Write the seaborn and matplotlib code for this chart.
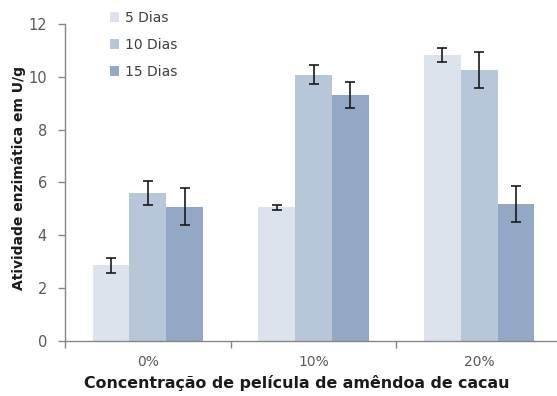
import numpy as np
import pandas as pd
import matplotlib
matplotlib.use("Agg")
import matplotlib.pyplot as plt
import seaborn as sns
from matplotlib.ticker import FixedLocator
from matplotlib.patches import Patch

concentracoes = ["0%", "10%", "20%"]
tempos = ["5 Dias", "10 Dias", "15 Dias"]
atividade_5 = [2.85, 5.05, 10.82]
atividade_10 = [5.60, 10.08, 10.27]
atividade_15 = [5.08, 9.32, 5.19]
erro_5 = [0.30, 0.10, 0.26]
erro_10 = [0.45, 0.36, 0.68]
erro_15 = [0.70, 0.50, 0.69]
cores = ["#DCE3EC", "#B7C6D9", "#92A8C4"]

valores = [atividade_5, atividade_10, atividade_15]
erros = [erro_5, erro_10, erro_15]
df = pd.DataFrame({
    "concentracao": [c for _ in tempos for c in concentracoes],
    "tempo": [t for t in tempos for _ in concentracoes],
    "atividade": [v for serie in valores for v in serie],
    "erro": [e for serie in erros for e in serie],
})

sns.set_theme(style="white")
plt.rcParams["font.family"] = ["DejaVu Sans"]

W, H = 557, 396
fig = plt.figure(figsize=(W / 100, H / 100), dpi=100)
ax = fig.add_axes([65 / W, 1 - 340.7 / H, (562 - 65) / W, (340.7 - 24) / H])

sns.barplot(data=df, x="concentracao", y="atividade", hue="tempo",
            order=concentracoes, hue_order=tempos, palette=cores, saturation=1,
            width=0.665, errorbar=None, linewidth=0, legend=False, ax=ax)

# error bars placed at the centre of each drawn bar
for i, t in enumerate(tempos):
    cont = ax.containers[i]
    xs = [p.get_x() + p.get_width() / 2 for p in cont.patches]
    ax.errorbar(xs, valores[i], yerr=erros[i], fmt="none", ecolor="#1a1a1a",
                elinewidth=1.2, capsize=3.4, capthick=1.2, zorder=5)

ax.set_ylim(0, 12)
ax.set_xlim(-0.5, 2.5)
ax.set_yticks(np.arange(0, 13, 2))
ax.xaxis.set_minor_locator(FixedLocator([-0.5, 0.5, 1.5]))
ax.tick_params(axis="x", which="major", length=0, pad=10, labelsize=10, labelcolor="#595959")
ax.tick_params(axis="x", which="minor", length=5, width=1, color="#868686", direction="out", bottom=True)
ax.tick_params(axis="y", length=5, width=1, color="#868686", direction="out", left=True,
               pad=8, labelsize=10.5, labelcolor="#595959")

for s in ["top", "right"]:
    ax.spines[s].set_visible(False)
for s in ["left", "bottom"]:
    ax.spines[s].set_color("#868686")
    ax.spines[s].set_linewidth(1)

ax.set_xlabel("Concentração de película de amêndoa de cacau", fontsize=11.4,
              fontweight="bold", color="#1a1a1a")
ax.xaxis.set_label_coords((297 - 65) / 497, -(375 - 340.7) / 316.7)
ax.set_ylabel("Atividade enzimática em U/g", fontsize=10, fontweight="bold",
              color="#1a1a1a")
ax.yaxis.set_label_coords(-(65 - 26) / 497, (340.7 - 178) / 316.7)

handles = [Patch(facecolor=c, edgecolor="none") for c in cores]
fig.legend(handles, tempos, loc="upper left", bbox_to_anchor=(104 / W, 1 - 5 / H),
           frameon=False, fontsize=10, labelcolor="#404040", handlelength=0.7,
           handleheight=0.7, handletextpad=0.4, labelspacing=0.95, borderaxespad=0)

fig.savefig("out.png", dpi=100)
